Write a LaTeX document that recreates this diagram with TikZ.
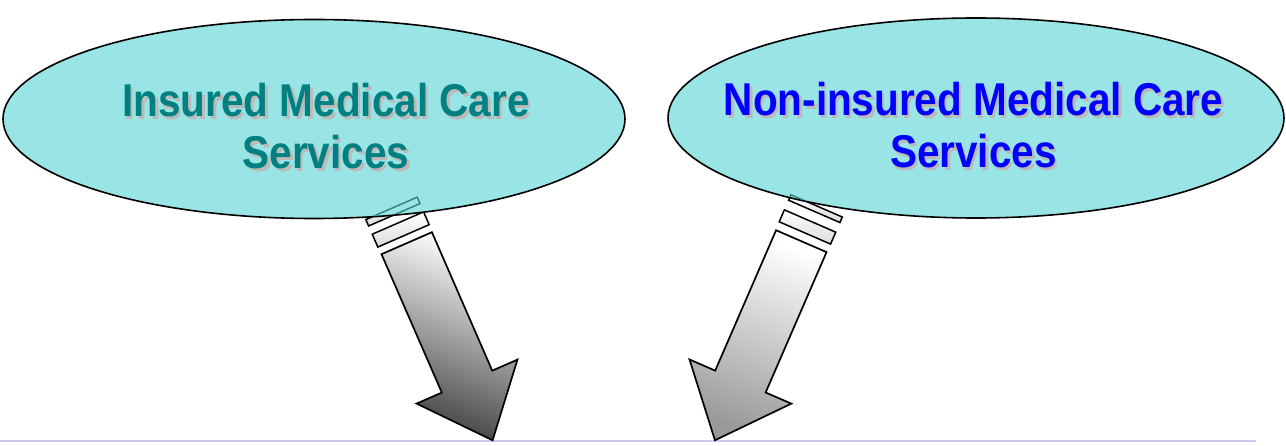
\documentclass[tikz,border=0pt]{standalone}
\usepackage{fontspec}
\newfontfamily\medfont[FakeStretch=0.88]{Liberation Sans}
\usetikzlibrary{positioning,shapes.geometric}
\definecolor{medInk}{HTML}{000000}
\definecolor{medCyan}{HTML}{99E4E4}
\definecolor{medTeal}{HTML}{008080}
\definecolor{medBlue}{HTML}{0000FF}
\definecolor{medShadow}{HTML}{BDB9B9}
\definecolor{medEdge}{HTML}{2E8080}
\definecolor{medRule}{HTML}{CBCBF2}
\tikzset{
  every picture/.style={font=\medfont\bfseries\fontsize{46}{52}\selectfont},
  med bubble/.style={ellipse, draw=medInk, line width=1.6pt, fill=medCyan,
    inner sep=0pt},
  med label/.style={align=center, inner sep=0pt},
  med shadow/.style={med label, text=medShadow},
  med arrow/.style={draw=medInk, line width=1.7pt, line join=miter},
  med band/.style={draw=medInk, line width=1.5pt, top color=white,
    bottom color=black!14},
  med rule/.style={draw=medRule, line width=1.5pt}
}

\begin{document}
\begin{tikzpicture}[x=1pt,y=1pt]
  \useasboundingbox (0,0) rectangle (1286,445);
  \draw[med rule] (0,4) -- (1256,4);
  \begin{scope}[shift={(406.7,201.8)}, rotate=23.55]
    \shadedraw[med arrow, top color=white, bottom color=black!75, shading angle=-20]
      (-27.5,0) -- (27.5,0) -- (27.5,-151) -- (55,-151) -- (0,-215)
      -- (-55,-151) -- (-27.5,-151) -- cycle;
    \shadedraw[med band] (-28,8) rectangle (28,22);
    \shadedraw[med band] (-28,31) rectangle (28,38);
  \end{scope}
  \begin{scope}[shift={(801.3,203.8)}, rotate=-23.45]
    \shadedraw[med arrow, top color=white, bottom color=black!40, shading angle=-20]
      (-27.5,0) -- (27.5,0) -- (27.5,-153) -- (55.5,-153) -- (0,-217)
      -- (-55.5,-153) -- (-27.5,-153) -- cycle;
    \shadedraw[med band] (-28,9) rectangle (28,22);
    \shadedraw[med band] (-28,32.5) rectangle (28,38.5);
  \end{scope}
  \node[med bubble, minimum width=622pt, minimum height=199pt] (insured) at (314,326) {};
  \node[med bubble, minimum width=616pt, minimum height=200pt] (noninsured) at (976,327) {};
  \begin{scope}
    \clip (insured.center) ellipse [x radius=310, y radius=98.5];
    \draw[medEdge, line width=1.4pt, shift={(406.7,201.8)}, rotate=23.55]
      (-28,31) rectangle (28,38);
  \end{scope}
  \begin{scope}
    \clip (noninsured.center) ellipse [x radius=307, y radius=99];
    \draw[medEdge, line width=1.4pt, shift={(801.3,203.8)}, rotate=-23.45]
      (-28,32.5) rectangle (28,38.5);
  \end{scope}
  \node[med shadow] (insuredShadow) at ([xshift=14.5pt,yshift=-10pt]insured.center)
    {Insured Medical Care\\Services};
  \node[med label, text=medTeal] (insuredText) at ([xshift=12pt,yshift=-7.5pt]insured.center)
    {Insured Medical Care\\Services};
  \node[med shadow] (noninsuredShadow) at ([xshift=0pt,yshift=-10pt]noninsured.center)
    {Non-insured Medical Care\\Services};
  \node[med label, text=medBlue] (noninsuredText) at ([xshift=-2.5pt,yshift=-7.5pt]noninsured.center)
    {Non-insured Medical Care\\Services};
\end{tikzpicture}
\end{document}
